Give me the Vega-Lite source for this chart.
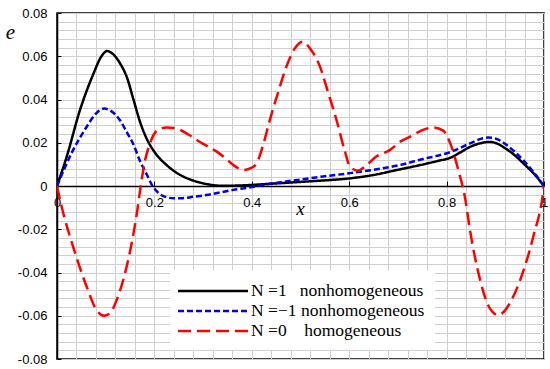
{
  "$schema": "https://vega.github.io/schema/vega-lite/v6.json",
  "width": 487,
  "height": 346,
  "autosize": {"type": "none"},
  "padding": {"left": 57, "top": 13, "right": 6, "bottom": 10},
  "background": "white",
  "config": {
    "view": {"stroke": "black", "strokeWidth": 1.5},
    "axis": {"labelFont": "Liberation Sans", "labelFontSize": 13, "labelColor": "black", "gridColor": "#d0d0d0", "gridWidth": 1, "domainColor": "black", "tickColor": "black"},
    "legend": {
      "orient": "none", "legendX": 113, "legendY": 257,
      "fillColor": "white", "padding": 10,
      "symbolType": "M-3.684,0H3.684", "symbolSize": 361, "symbolStrokeWidth": 2.5, "symbolOffset": 22,
      "labelFont": "Liberation Serif", "labelFontSize": 17.5, "labelColor": "black",
      "rowPadding": 0, "labelOffset": 27, "labelLimit": 400
    }
  },
  "data": {"values": [
    {"s": "N=1", "x": 0, "e": 0},
    {"s": "N=1", "x": 0.02, "e": 0.0136},
    {"s": "N=1", "x": 0.047, "e": 0.035},
    {"s": "N=1", "x": 0.075, "e": 0.052},
    {"s": "N=1", "x": 0.09, "e": 0.0595},
    {"s": "N=1", "x": 0.103, "e": 0.0624},
    {"s": "N=1", "x": 0.115, "e": 0.061},
    {"s": "N=1", "x": 0.13, "e": 0.0565},
    {"s": "N=1", "x": 0.143, "e": 0.0506},
    {"s": "N=1", "x": 0.157, "e": 0.04},
    {"s": "N=1", "x": 0.17, "e": 0.03},
    {"s": "N=1", "x": 0.185, "e": 0.0215},
    {"s": "N=1", "x": 0.2, "e": 0.0158},
    {"s": "N=1", "x": 0.225, "e": 0.0097},
    {"s": "N=1", "x": 0.253, "e": 0.0051},
    {"s": "N=1", "x": 0.28, "e": 0.0025},
    {"s": "N=1", "x": 0.31, "e": 0.0008},
    {"s": "N=1", "x": 0.34, "e": 0.0001},
    {"s": "N=1", "x": 0.37, "e": 0.0002},
    {"s": "N=1", "x": 0.4, "e": 0.0005},
    {"s": "N=1", "x": 0.45, "e": 0.0012},
    {"s": "N=1", "x": 0.5, "e": 0.0019},
    {"s": "N=1", "x": 0.55, "e": 0.0026},
    {"s": "N=1", "x": 0.6, "e": 0.0035},
    {"s": "N=1", "x": 0.65, "e": 0.0051},
    {"s": "N=1", "x": 0.7, "e": 0.0075},
    {"s": "N=1", "x": 0.74, "e": 0.0094},
    {"s": "N=1", "x": 0.78, "e": 0.0115},
    {"s": "N=1", "x": 0.81, "e": 0.0133},
    {"s": "N=1", "x": 0.83, "e": 0.0158},
    {"s": "N=1", "x": 0.85, "e": 0.0183},
    {"s": "N=1", "x": 0.87, "e": 0.0198},
    {"s": "N=1", "x": 0.889, "e": 0.0204},
    {"s": "N=1", "x": 0.905, "e": 0.0195},
    {"s": "N=1", "x": 0.92, "e": 0.0175},
    {"s": "N=1", "x": 0.94, "e": 0.0142},
    {"s": "N=1", "x": 0.957, "e": 0.0106},
    {"s": "N=1", "x": 0.98, "e": 0.0055},
    {"s": "N=1", "x": 1, "e": 0},
    {"s": "N=-1", "x": 0, "e": 0},
    {"s": "N=-1", "x": 0.033, "e": 0.0166},
    {"s": "N=-1", "x": 0.061, "e": 0.0274},
    {"s": "N=-1", "x": 0.08, "e": 0.0335},
    {"s": "N=-1", "x": 0.097, "e": 0.0358},
    {"s": "N=-1", "x": 0.112, "e": 0.0345},
    {"s": "N=-1", "x": 0.129, "e": 0.0305},
    {"s": "N=-1", "x": 0.143, "e": 0.025},
    {"s": "N=-1", "x": 0.157, "e": 0.0192},
    {"s": "N=-1", "x": 0.17, "e": 0.0118},
    {"s": "N=-1", "x": 0.184, "e": 0.0055},
    {"s": "N=-1", "x": 0.197, "e": -0.0003},
    {"s": "N=-1", "x": 0.21, "e": -0.0035},
    {"s": "N=-1", "x": 0.225, "e": -0.0052},
    {"s": "N=-1", "x": 0.24, "e": -0.0057},
    {"s": "N=-1", "x": 0.253, "e": -0.0057},
    {"s": "N=-1", "x": 0.28, "e": -0.005},
    {"s": "N=-1", "x": 0.307, "e": -0.0042},
    {"s": "N=-1", "x": 0.335, "e": -0.003},
    {"s": "N=-1", "x": 0.362, "e": -0.0018},
    {"s": "N=-1", "x": 0.397, "e": -0.0006},
    {"s": "N=-1", "x": 0.437, "e": 0.001},
    {"s": "N=-1", "x": 0.5, "e": 0.003},
    {"s": "N=-1", "x": 0.55, "e": 0.0045},
    {"s": "N=-1", "x": 0.6, "e": 0.0059},
    {"s": "N=-1", "x": 0.65, "e": 0.0075},
    {"s": "N=-1", "x": 0.7, "e": 0.0095},
    {"s": "N=-1", "x": 0.75, "e": 0.0124},
    {"s": "N=-1", "x": 0.81, "e": 0.0159},
    {"s": "N=-1", "x": 0.848, "e": 0.0197},
    {"s": "N=-1", "x": 0.87, "e": 0.0218},
    {"s": "N=-1", "x": 0.885, "e": 0.0224},
    {"s": "N=-1", "x": 0.9, "e": 0.022},
    {"s": "N=-1", "x": 0.92, "e": 0.0195},
    {"s": "N=-1", "x": 0.94, "e": 0.0158},
    {"s": "N=-1", "x": 0.957, "e": 0.012},
    {"s": "N=-1", "x": 0.98, "e": 0.006},
    {"s": "N=-1", "x": 1, "e": 0},
    {"s": "N=0", "x": 0, "e": 0},
    {"s": "N=0", "x": 0.0096, "e": -0.0096},
    {"s": "N=0", "x": 0.033, "e": -0.028},
    {"s": "N=0", "x": 0.061, "e": -0.0466},
    {"s": "N=0", "x": 0.081, "e": -0.0573},
    {"s": "N=0", "x": 0.097, "e": -0.06},
    {"s": "N=0", "x": 0.11, "e": -0.0585},
    {"s": "N=0", "x": 0.1225, "e": -0.0527},
    {"s": "N=0", "x": 0.143, "e": -0.0373},
    {"s": "N=0", "x": 0.164, "e": -0.0126},
    {"s": "N=0", "x": 0.172, "e": 0},
    {"s": "N=0", "x": 0.18, "e": 0.011},
    {"s": "N=0", "x": 0.19, "e": 0.019},
    {"s": "N=0", "x": 0.198, "e": 0.0235},
    {"s": "N=0", "x": 0.212, "e": 0.0265},
    {"s": "N=0", "x": 0.225, "e": 0.0271},
    {"s": "N=0", "x": 0.24, "e": 0.0268},
    {"s": "N=0", "x": 0.253, "e": 0.0259},
    {"s": "N=0", "x": 0.27, "e": 0.0238},
    {"s": "N=0", "x": 0.287, "e": 0.0213},
    {"s": "N=0", "x": 0.308, "e": 0.0185},
    {"s": "N=0", "x": 0.328, "e": 0.0159},
    {"s": "N=0", "x": 0.345, "e": 0.013},
    {"s": "N=0", "x": 0.362, "e": 0.0097},
    {"s": "N=0", "x": 0.383, "e": 0.0074},
    {"s": "N=0", "x": 0.4, "e": 0.0085},
    {"s": "N=0", "x": 0.41, "e": 0.0105},
    {"s": "N=0", "x": 0.422, "e": 0.018},
    {"s": "N=0", "x": 0.437, "e": 0.0305},
    {"s": "N=0", "x": 0.455, "e": 0.044},
    {"s": "N=0", "x": 0.471, "e": 0.0552},
    {"s": "N=0", "x": 0.488, "e": 0.0635},
    {"s": "N=0", "x": 0.504, "e": 0.0667},
    {"s": "N=0", "x": 0.52, "e": 0.0635},
    {"s": "N=0", "x": 0.54, "e": 0.0552},
    {"s": "N=0", "x": 0.557, "e": 0.043},
    {"s": "N=0", "x": 0.574, "e": 0.0305},
    {"s": "N=0", "x": 0.59, "e": 0.017},
    {"s": "N=0", "x": 0.602, "e": 0.0089},
    {"s": "N=0", "x": 0.618, "e": 0.0071},
    {"s": "N=0", "x": 0.635, "e": 0.0095},
    {"s": "N=0", "x": 0.655, "e": 0.0135},
    {"s": "N=0", "x": 0.684, "e": 0.0167},
    {"s": "N=0", "x": 0.705, "e": 0.0205},
    {"s": "N=0", "x": 0.725, "e": 0.0228},
    {"s": "N=0", "x": 0.75, "e": 0.0258},
    {"s": "N=0", "x": 0.773, "e": 0.0271},
    {"s": "N=0", "x": 0.793, "e": 0.0256},
    {"s": "N=0", "x": 0.81, "e": 0.0182},
    {"s": "N=0", "x": 0.824, "e": 0.0074},
    {"s": "N=0", "x": 0.838, "e": -0.0056},
    {"s": "N=0", "x": 0.848, "e": -0.0204},
    {"s": "N=0", "x": 0.869, "e": -0.0435},
    {"s": "N=0", "x": 0.885, "e": -0.055},
    {"s": "N=0", "x": 0.906, "e": -0.0597},
    {"s": "N=0", "x": 0.92, "e": -0.0575},
    {"s": "N=0", "x": 0.935, "e": -0.052},
    {"s": "N=0", "x": 0.951, "e": -0.0435},
    {"s": "N=0", "x": 0.978, "e": -0.0234},
    {"s": "N=0", "x": 0.999, "e": -0.0018},
    {"s": "N=0", "x": 1, "e": 0}
  ]},
  "mark": {"type": "line", "interpolate": "monotone", "strokeWidth": 2.5, "clip": true},
  "encoding": {
    "x": {
      "field": "x", "type": "quantitative",
      "scale": {"domain": [0, 1], "nice": false},
      "axis": {
        "orient": "bottom", "offset": -173,
        "values": [0,0.04,0.08,0.12,0.16,0.2,0.24,0.28,0.32,0.36,0.4,0.44,0.48,0.52,0.56,0.6,0.64,0.68,0.72,0.76,0.8,0.84,0.88,0.92,0.96,1],
        "labelExpr": "abs(datum.value*5 - round(datum.value*5)) < 1e-6 ? format(datum.value, '~g') : ''",
        "tickSize": -5,
        "tickOpacity": {"condition": {"test": "abs(datum.value*5 - round(datum.value*5)) < 1e-6", "value": 1}, "value": 0},
        "labelPadding": 15,
        "labelFlush": false,
        "domainWidth": 1.5,
        "title": "x",
        "titleFont": "Liberation Serif", "titleFontStyle": "italic", "titleFontWeight": "normal", "titleFontSize": 19,
        "titleX": 243, "titleY": 22, "titleAlign": "center", "titleBaseline": "middle"
      }
    },
    "y": {
      "field": "e", "type": "quantitative",
      "scale": {"domain": [-0.08, 0.08], "nice": false, "zero": false},
      "axis": {
        "values": [-0.08,-0.076,-0.072,-0.068,-0.064,-0.06,-0.056,-0.052,-0.048,-0.044,-0.04,-0.036,-0.032,-0.028,-0.024,-0.02,-0.016,-0.012,-0.008,-0.004,0,0.004,0.008,0.012,0.016,0.02,0.024,0.028,0.032,0.036,0.04,0.044,0.048,0.052,0.056,0.06,0.064,0.068,0.072,0.076,0.08],
        "labelExpr": "abs(datum.value*50 - round(datum.value*50)) < 1e-6 ? (abs(datum.value) < 1e-9 ? '0' : (datum.value < 0 ? '-' : '') + format(abs(datum.value), '.2f')) : ''",
        "tickSize": -4,
        "tickOpacity": {"condition": {"test": "abs(datum.value*50 - round(datum.value*50)) < 1e-6", "value": 1}, "value": 0},
        "labelPadding": 14,
        "labelFlush": false,
        "domainWidth": 1.5,
        "title": "e",
        "titleFont": "Liberation Serif", "titleFontStyle": "italic", "titleFontWeight": "normal", "titleFontSize": 21,
        "titleAngle": 0, "titleX": -47, "titleY": 19, "titleAlign": "center", "titleBaseline": "middle"
      }
    },
    "color": {
      "field": "s", "type": "nominal",
      "scale": {"domain": ["N=1", "N=-1", "N=0"], "range": ["#000000", "#0000e6", "#ff0000"]},
      "legend": {"title": null, "labelExpr": "datum.label == 'N=1' ? 'N =1\u00a0\u00a0\u00a0nonhomogeneous' : datum.label == 'N=-1' ? 'N =\u22121 nonhomogeneous' : 'N =0\u00a0\u00a0\u00a0\u00a0homogeneous'"}
    },
    "strokeDash": {
      "field": "s", "type": "nominal",
      "scale": {"domain": ["N=1", "N=-1", "N=0"], "range": [[1, 0], [6, 3], [13, 6]]},
      "legend": {"title": null, "labelExpr": "datum.label == 'N=1' ? 'N =1\u00a0\u00a0\u00a0nonhomogeneous' : datum.label == 'N=-1' ? 'N =\u22121 nonhomogeneous' : 'N =0\u00a0\u00a0\u00a0\u00a0homogeneous'"}
    }
  }
}
